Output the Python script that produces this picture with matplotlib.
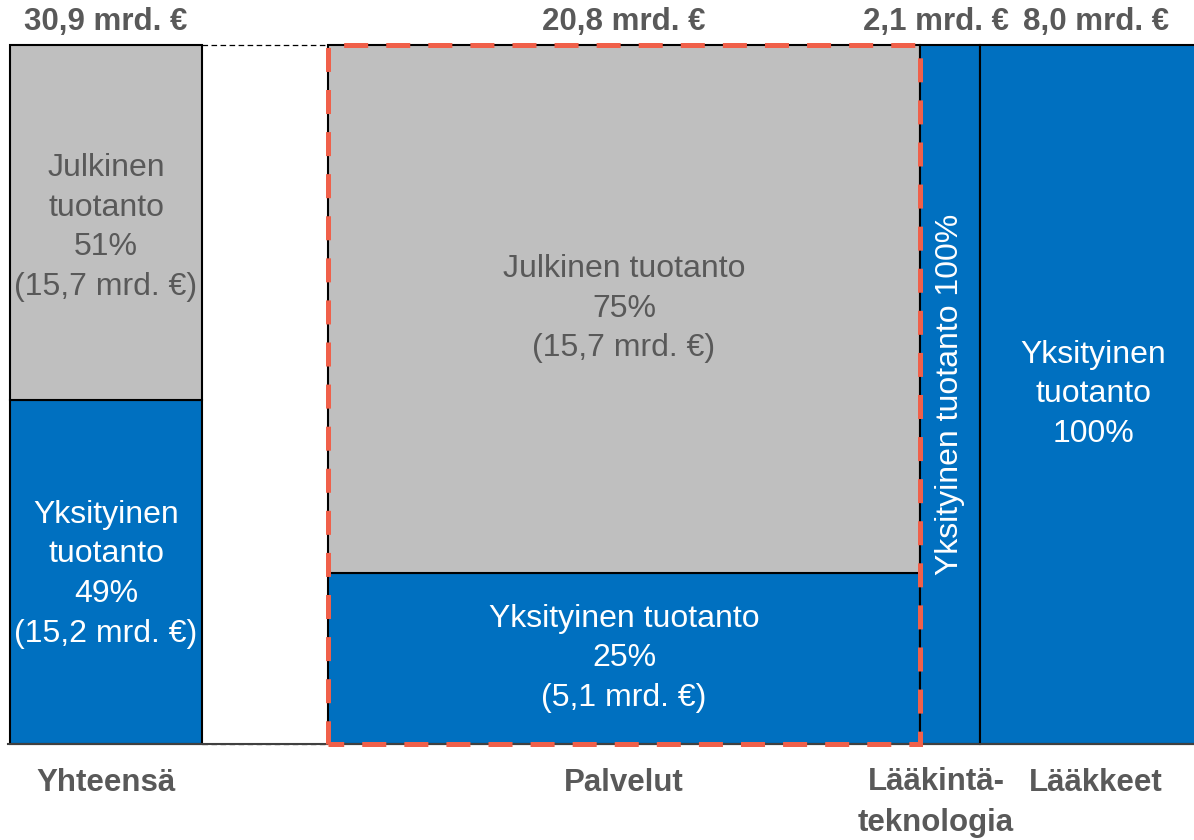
import matplotlib
matplotlib.use("Agg")
import matplotlib.pyplot as plt
from matplotlib.patches import Rectangle

plt.rcParams['font.family'] = ['Liberation Sans', 'DejaVu Sans']
plt.rcParams['lines.scale_dashes'] = False

# ---- data ----
total_label = "Yhteensä"
total_value = 30.9
total_public = 15.7
total_private = 15.2

categories = ["Palvelut", "Lääkintä-\nteknologia", "Lääkkeet"]
cat_values = [20.8, 2.1, 8.0]
cat_public = [15.7, 0.0, 0.0]
cat_private = [5.1, 2.1, 8.0]
top_labels = ["20,8 mrd. €", "2,1 mrd. €", "8,0 mrd. €"]
total_top_label = "30,9 mrd. €"

total_texts = ["Julkinen\ntuotanto\n51%\n(15,7 mrd. €)",
               "Yksityinen\ntuotanto\n49%\n(15,2 mrd. €)"]
cat_public_texts = ["Julkinen tuotanto\n75%\n(15,7 mrd. €)", "", ""]
cat_private_texts = ["Yksityinen tuotanto\n25%\n(5,1 mrd. €)",
                     "Yksityinen tuotanto 100%",
                     "Yksityinen\ntuotanto\n100%"]
private_rot = [0, 90, 0]

# ---- style ----
BLUE = "#0070C0"
GRAY = "#BFBFBF"
TXT = "#595959"
RED = "#F0604A"
FS = 23
FSB = 22.5
LS = 1.42
LABEL_DX_PX = [0, -14, 2]   # small horizontal nudges of outer labels

W, H = 1194, 840
fig = plt.figure(figsize=(W / 100, H / 100), dpi=100)
ax = fig.add_axes([0, 0, 1, 1])

# pixel layout -> data scale (chart is cropped at the right edge)
px_per_unit = (920 - 328) / cat_values[0]
x0_px = 328
xmin = (0 - x0_px) / px_per_unit
xmax = (W - x0_px) / px_per_unit
py_per_pct = (744 - 45) / 100.0
ymin = -(H - 744) / py_per_pct
ymax = 100 + 45 / py_per_pct
ax.set_xlim(xmin, xmax)
ax.set_ylim(ymin, ymax)
ax.axis('off')

y_top_lab = 100 + (45 - 22) / py_per_pct
y_bot_lab = -(783 - 744) / py_per_pct
y_bot_lab2 = -(802.5 - 744) / py_per_pct

# total bar (fixed width on the left)
tl = (10 - x0_px) / px_per_unit
tw = (202 - 10) / px_per_unit
tc = tl + tw / 2
priv_pct = total_private / total_value * 100
ax.bar(tl, priv_pct, width=tw, align='edge', color=BLUE, edgecolor='black', linewidth=1.5, zorder=2)
ax.bar(tl, 100 - priv_pct, bottom=priv_pct, width=tw, align='edge', color=GRAY,
       edgecolor='black', linewidth=1.5, zorder=2)
ax.text(tc, priv_pct + (100 - priv_pct) / 2 - 0.7, total_texts[0], ha='center', va='center',
        color=TXT, fontsize=FS, linespacing=LS, zorder=5)
ax.text(tc, priv_pct / 2 - 0.3, total_texts[1], ha='center', va='center',
        color='white', fontsize=FS, linespacing=LS, zorder=5)
ax.text(tc, y_top_lab, total_top_label, ha='center', va='center', color=TXT,
        fontsize=FSB, fontweight='bold')
ax.text(tc, y_bot_lab, total_label, ha='center', va='center', color=TXT,
        fontsize=FSB, fontweight='bold')

# dashed connectors
ax.plot([tl + tw, 0], [100, 100], color='black', lw=0.9, ls=(0, (4, 2.5)), zorder=1)
ax.plot([tl + tw, 0], [0, 0], color='black', lw=0.9, ls=(0, (4, 2.5)), zorder=1)

# category bars
left = 0.0
for i, (cat, v) in enumerate(zip(categories, cat_values)):
    priv = cat_private[i] / v * 100
    pub = cat_public[i] / v * 100
    c = left + v / 2
    cl = c + LABEL_DX_PX[i] / px_per_unit
    ax.bar(left, priv, width=v, align='edge', color=BLUE, edgecolor='black', linewidth=1.5, zorder=2)
    if pub > 0:
        ax.bar(left, pub, bottom=priv, width=v, align='edge', color=GRAY,
               edgecolor='black', linewidth=1.5, zorder=2)
        ax.text(c, priv + pub / 2, cat_public_texts[i], ha='center', va='center',
                color=TXT, fontsize=FS, linespacing=LS, zorder=5)
    ax.text(c, priv / 2 if pub > 0 else 50, cat_private_texts[i], ha='center', va='center',
            color='white', fontsize=FS, linespacing=LS, rotation=private_rot[i], zorder=5)
    ax.text(cl, y_top_lab, top_labels[i], ha='center', va='center', color=TXT,
            fontsize=FSB, fontweight='bold')
    ax.text(cl, y_bot_lab2 if '\n' in cat else y_bot_lab, cat, ha='center', va='center',
            color=TXT, fontsize=FSB, fontweight='bold', linespacing=1.45)
    left += v

# baseline
ax.plot([(8 - x0_px) / px_per_unit, xmax], [0, 0], color='#404040', lw=1.5, zorder=3)

# red dashed highlight around the first category
ax.add_patch(Rectangle((0, 0), cat_values[0], 100, fill=False, edgecolor=RED, lw=3.6,
                       ls=(6, (17.3, 13)), zorder=6))

fig.savefig("out.png", dpi=100)
